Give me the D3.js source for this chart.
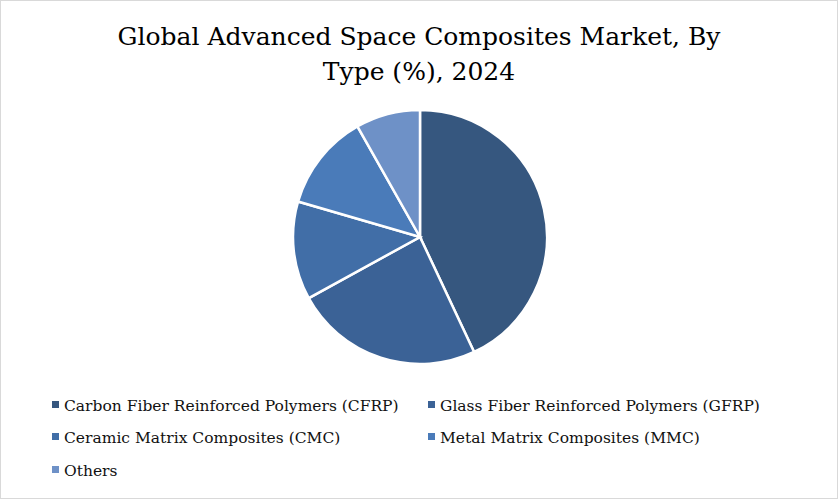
<!DOCTYPE html>
<html><head><meta charset="utf-8">
<script src="https://cdn.jsdelivr.net/npm/d3@7"></script>
<style>body{margin:0;background:#fff}svg{display:block}</style>
</head><body>
<svg id="chart" width="838" height="499"></svg>
<script>
const categories=["Carbon Fiber Reinforced Polymers (CFRP)","Glass Fiber Reinforced Polymers (GFRP)","Ceramic Matrix Composites (CMC)","Metal Matrix Composites (MMC)","Others"];
const values=[43,24,12.5,12.3,8.2];
const colors=["#36577f","#3b6296","#416ea7","#4a7bb9","#6e91c7"];

const svg=d3.select('#chart');
const font="'DejaVu Serif', 'Liberation Serif', serif";
svg.append('rect').attr('x',0.5).attr('y',0.5).attr('width',837).attr('height',498)
  .attr('fill','#fff').attr('stroke','#d9d9d9');

svg.append('text').attr('x',419).attr('y',45).attr('text-anchor','middle')
  .attr('font-family',font).attr('font-size',25).text('Global Advanced Space Composites Market, By');
svg.append('text').attr('x',419).attr('y',80).attr('text-anchor','middle')
  .attr('font-family',font).attr('font-size',25).text('Type (%), 2024');

const pie=d3.pie().sort(null).value(d=>d)(values);
const arc=d3.arc().innerRadius(0).outerRadius(127);
svg.append('g').attr('transform','translate(420,237)')
  .selectAll('path').data(pie).join('path')
  .attr('d',arc).attr('fill',(d,i)=>colors[i])
  .attr('stroke','#fff').attr('stroke-width',2.5);

const lx=[52,428], ly=[406,438,471];
const leg=svg.append('g').selectAll('g').data(categories).join('g')
  .attr('transform',(d,i)=>`translate(${lx[i%2]},${ly[Math.floor(i/2)]})`);
leg.append('rect').attr('x',0).attr('y',-5).attr('width',7).attr('height',7).attr('fill',(d,i)=>colors[i]);
leg.append('text').attr('x',12).attr('y',5).attr('font-family',font).attr('font-size',15.5)
  .attr('fill','#111').text(d=>d);
</script>
</body></html>
